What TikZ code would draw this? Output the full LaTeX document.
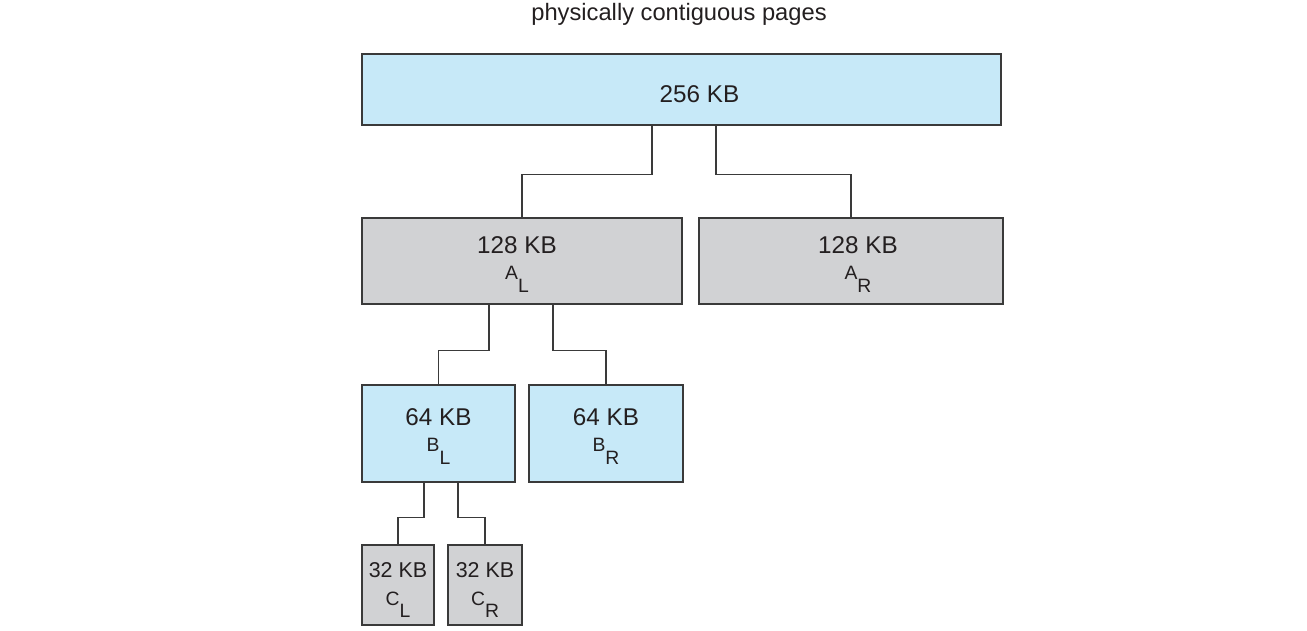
\documentclass[tikz,border=0pt]{standalone}
\usepackage{fontspec}
\setmainfont{Liberation Sans}
\usetikzlibrary{positioning, calc}
\definecolor{pageblue}{HTML}{C7E9F8}
\definecolor{pagegray}{HTML}{D1D2D4}
\definecolor{pageline}{HTML}{3A3A3A}
\definecolor{pagetext}{HTML}{231F20}
\newcommand{\sublbl}[2]{{\fontsize{11}{12}\selectfont #1\raisebox{-7pt}{#2}}}
\newcommand{\tshift}[2]{\makebox[0pt]{\hspace*{#1}#2}}

\begin{document}
\begin{tikzpicture}[x=0.02cm, y=-0.02cm,
  pagebox/.style={draw=pageline, line width=0.8pt, inner sep=0pt, align=center,
    text=pagetext, font=\fontsize{13.8}{15}\selectfont},
  bluebox/.style={pagebox, fill=pageblue},
  graybox/.style={pagebox, fill=pagegray},
  smallbox/.style={font=\fontsize{12.2}{13}\selectfont},
  link/.style={draw=pageline, line width=0.6pt}]
  \useasboundingbox (0,0) rectangle (1307,631);

  \node[text=pagetext, font=\fontsize{13.5}{15}\selectfont] (title) at (679,14) {physically contiguous pages};

  % whole block
  \node[bluebox, minimum width=12.78cm, minimum height=1.42cm] (top) at (681.5,89.5)
    {\tshift{0.72cm}{\rule{0pt}{14.5pt}256 KB}};

  % first split
  \node[graybox, minimum width=6.4cm, minimum height=1.72cm] (AL) at (522,261)
    {\tshift{-0.2cm}{\rule{0pt}{13.5pt}128 KB}\\[0pt]\tshift{-0.2cm}{\sublbl{A}{L}}};
  \node[graybox, minimum width=6.08cm, minimum height=1.72cm] (AR) at (851,261)
    {\tshift{0.28cm}{\rule{0pt}{13.5pt}128 KB}\\[0pt]\tshift{0.28cm}{\sublbl{A}{R}}};

  % second split
  \node[bluebox, minimum width=3.06cm, minimum height=1.94cm] (BL) at (438.5,433.5)
    {\rule{0pt}{13pt}64 KB\\[0pt]\sublbl{B}{L}};
  \node[bluebox, minimum width=3.08cm, minimum height=1.94cm] (BR) at (606,433.5)
    {\rule{0pt}{13pt}64 KB\\[0pt]\sublbl{B}{R}};

  % third split
  \node[graybox, smallbox, minimum width=1.44cm, minimum height=1.6cm] (CL) at (398,585)
    {\rule{0pt}{14pt}32 KB\\[3pt]\sublbl{C}{L}};
  \node[graybox, smallbox, minimum width=1.48cm, minimum height=1.6cm] (CR) at (485,585)
    {\rule{0pt}{14pt}32 KB\\[3pt]\sublbl{C}{R}};

  % connectors
  \draw[link] ($(top.south)+(-29.5,0)$) -- ++(0,49) -| (AL.north);
  \draw[link] ($(top.south)+(34.5,0)$) -- ++(0,49) -| (AR.north);
  \draw[link] ($(AL.south)+(-33,0)$) -- ++(0,46) -| (BL.north);
  \draw[link] ($(AL.south)+(31,0)$) -- ++(0,46) -| (BR.north);
  \draw[link] ($(BL.south)+(-14.5,0)$) -- ++(0,35) -| (CL.north);
  \draw[link] ($(BL.south)+(19.5,0)$) -- ++(0,35) -| (CR.north);
\end{tikzpicture}
\end{document}
